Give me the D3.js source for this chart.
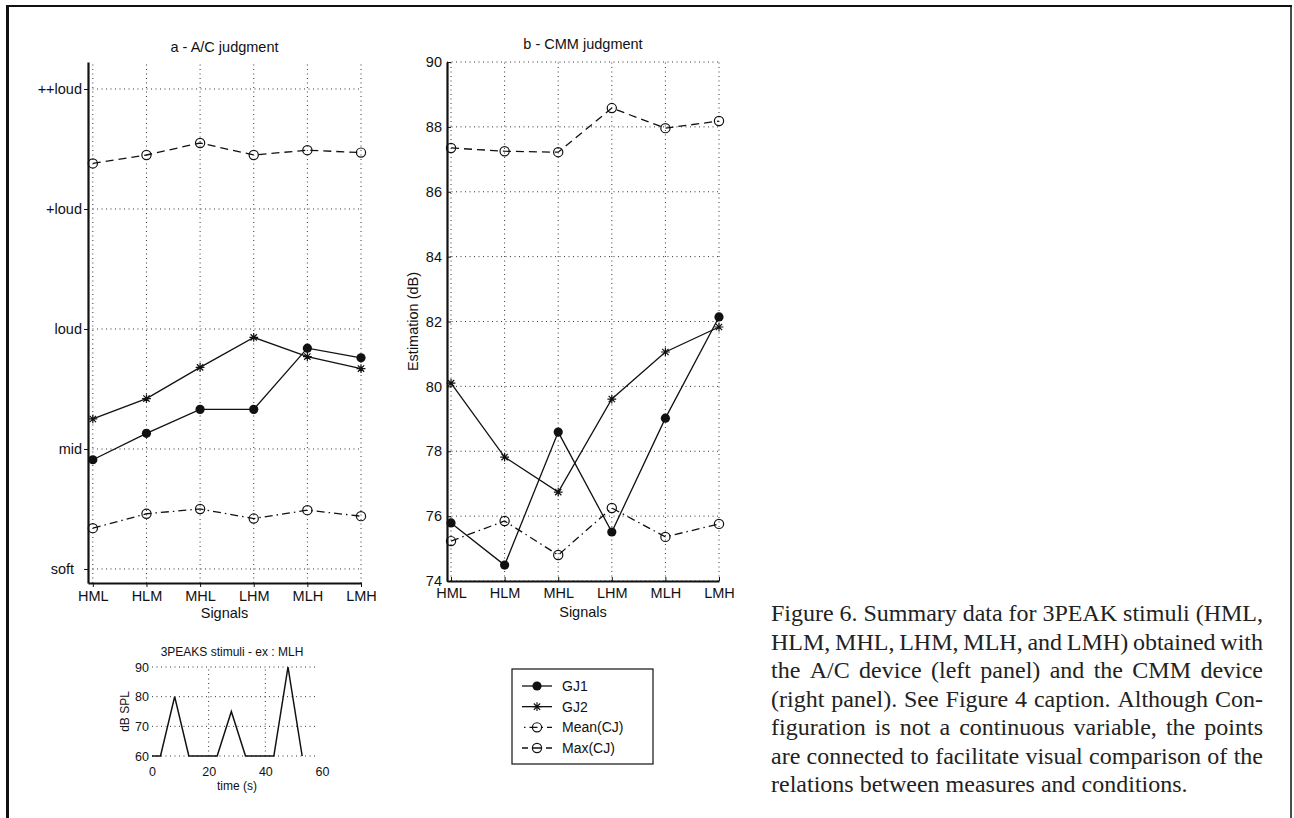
<!DOCTYPE html>
<html>
<head>
<meta charset="utf-8">
<script src="https://cdn.jsdelivr.net/npm/d3@7"></script>
<style>
body{margin:0;background:#fff;}
svg{display:block;font-family:"Liberation Sans",Arial,Helvetica,sans-serif;}
</style>
</head>
<body>
<svg id="fig" width="1294" height="818"></svg>
<script>
// ---- data ----
const signals = ["HML","HLM","MHL","LHM","MLH","LMH"];

// panel a : A/C judgment (1 = soft ... 5 = ++loud)
const acTicks = [1,2,3,4,5];
const acTickLabels = ["soft","mid","loud","+loud","++loud"];
const acGJ1    = [1.91, 2.13, 2.33, 2.33, 2.84, 2.76];
const acGJ2    = [2.25, 2.42, 2.68, 2.93, 2.77, 2.67];
const acMeanCJ = [1.34, 1.46, 1.50, 1.42, 1.49, 1.44];
const acMaxCJ  = [4.38, 4.45, 4.55, 4.45, 4.49, 4.47];

// panel b : CMM judgment (dB)
const cmmTicks  = [74,76,78,80,82,84,86,88,90];
const cmmGJ1    = [75.79, 74.49, 78.59, 75.51, 79.02, 82.14];
const cmmGJ2    = [80.10, 77.82, 76.74, 79.61, 81.06, 81.83];
const cmmMeanCJ = [75.23, 75.85, 74.80, 76.25, 75.36, 75.76];
const cmmMaxCJ  = [87.35, 87.25, 87.22, 88.58, 87.96, 88.18];

// inset : 3PEAKS stimulus example
const stimTime  = [0,3,8,13,23,28,33,43,48,53];
const stimLevel = [60,60,80,60,60,75,60,60,90,60];
const stimXTicks = [0,20,40,60];
const stimYTicks = [60,70,80,90];

const legendNames = ["GJ1","GJ2","Mean(CJ)","Max(CJ)"];

const captionLines = [
    "Figure 6. Summary data for 3PEAK stimuli (HML,",
    "HLM, MHL, LHM, MLH, and LMH) obtained with",
    "the A/C device (left panel) and the CMM device",
    "(right panel). See Figure 4 caption. Although Con-",
    "figuration is not a continuous variable, the points",
    "are connected to facilitate visual comparison of the",
    "relations between measures and conditions."
];

// ---- styles for each series ----
const seriesStyle = {
    "GJ1":      {dash: null,            marker: "dot"},
    "GJ2":      {dash: null,            marker: "star"},
    "Mean(CJ)": {dash: "8,4,1.5,4",     marker: "circle"},
    "Max(CJ)":  {dash: "8,5",           marker: "circle"}
};

const ink = "#111";
const svg = d3.select("#fig");

// page frame
svg.append("line").attr("x1",7.5).attr("x2",7.5).attr("y1",5).attr("y2",818)
    .attr("stroke",ink).attr("stroke-width",3);
svg.append("line").attr("x1",6).attr("x2",1292).attr("y1",6).attr("y2",6)
    .attr("stroke",ink).attr("stroke-width",2);
svg.append("line").attr("x1",1291).attr("x2",1291).attr("y1",5).attr("y2",818)
    .attr("stroke",ink).attr("stroke-width",1.5);

/**
 * Draws one marker of the given type at (cx,cy)
 */
function drawMarker(g, type, cx, cy){
    if(type === "dot"){
        g.append("circle").attr("cx",cx).attr("cy",cy).attr("r",4.6).attr("fill",ink);
    } else if(type === "circle"){
        g.append("circle").attr("cx",cx).attr("cy",cy).attr("r",4.6)
            .attr("fill","none").attr("stroke",ink).attr("stroke-width",1.2);
    } else {
        // matlab style asterisk: + and x on top of each other
        let r = 4.4, a = r*0.72;
        g.append("path")
            .attr("d",`M${cx-r},${cy}L${cx+r},${cy}M${cx},${cy-r}L${cx},${cy+r}`+
                      `M${cx-a},${cy-a}L${cx+a},${cy+a}M${cx-a},${cy+a}L${cx+a},${cy-a}`)
            .attr("stroke",ink).attr("stroke-width",1.2).attr("fill","none");
    }
}

/**
 * Draws a signal panel with grid, axes, and the four series
 */
function drawPanel(p){
    let g = svg.append("g");
    let x = d3.scaleLinear().domain([p.xMin, signals.length]).range([p.left, p.right]);
    let y = d3.scaleLinear().domain(p.yDomain).range([p.bottom, p.top]);

    // dotted grid
    g.selectAll(".vgrid").data(signals).join("line")
        .attr("x1",(d,i)=>x(i+1)).attr("x2",(d,i)=>x(i+1))
        .attr("y1",p.bottom).attr("y2",p.top)
        .attr("stroke","#333").attr("stroke-width",1).attr("stroke-dasharray","1,3.5");
    g.selectAll(".hgrid").data(p.ticks).join("line")
        .attr("x1",p.left).attr("x2",x(signals.length))
        .attr("y1",d=>y(d)).attr("y2",d=>y(d))
        .attr("stroke","#333").attr("stroke-width",1).attr("stroke-dasharray","1,3.5");

    // axes
    let yAxis = d3.axisLeft(y).tickValues(p.ticks).tickFormat(p.format)
        .tickSize(p.yTickSize).tickSizeOuter(0).tickPadding(p.yPad);
    let ya = g.append("g").attr("transform",`translate(${p.left},0)`).call(yAxis);
    let xAxis = d3.axisBottom(x).tickValues(d3.range(1, signals.length+1))
        .tickFormat(d=>signals[d-1]).tickSize(p.xTickSize).tickSizeOuter(0).tickPadding(p.xPad);
    let xa = g.append("g").attr("transform",`translate(0,${p.bottom})`).call(xAxis);
    for(let a of [ya, xa]){
        a.attr("font-family",null).attr("font-size",14.5);
        a.select(".domain").attr("stroke",ink).attr("stroke-width",2.2);
        a.selectAll(".tick line").attr("stroke",ink).attr("stroke-width",1);
        a.selectAll(".tick text").attr("fill",ink);
    }
    if(p.afterAxes) p.afterAxes(ya);

    // series lines and markers
    for(let s of p.series){
        let st = seriesStyle[s.name];
        let line = d3.line().x((d,i)=>x(i+1)).y(d=>y(d));
        g.append("path").attr("d",line(s.values))
            .attr("fill","none").attr("stroke",ink).attr("stroke-width",1.3)
            .attr("stroke-dasharray",st.dash);
        s.values.forEach((v,i)=>drawMarker(g, st.marker, x(i+1), y(v)));
    }

    // labels
    g.append("text").attr("x",(p.left+p.right)/2).attr("y",p.titleY)
        .attr("text-anchor","middle").attr("font-size",14.5).attr("fill",ink).text(p.title);
    g.append("text").attr("x",(p.left+p.right)/2).attr("y",p.xLabelY)
        .attr("text-anchor","middle").attr("font-size",14.5).attr("fill",ink).text("Signals");
    if(p.yLabel){
        g.append("text").attr("transform",`translate(${p.yLabelX},${(p.top+p.bottom)/2}) rotate(-90)`)
            .attr("dy","0.35em").attr("text-anchor","middle").attr("font-size",14.5)
            .attr("fill",ink).text(p.yLabel);
    }
}

// panel a
drawPanel({
    left: 88, right: 361, top: 62, bottom: 583, xMin: 0.91,
    yDomain: [0.883, 5.225], ticks: acTicks,
    format: d=>acTickLabels[d-1],
    yTickSize: 4, yPad: 2, xTickSize: 4, xPad: 4,
    title: "a - A/C judgment", titleY: 52, xLabelY: 618,
    afterAxes: ya=>{
        // "soft" sits a bit further left in the original
        ya.selectAll(".tick text").filter(d=>d===1).attr("dx",-8);
    },
    series: [
        {name:"GJ1", values: acGJ1},
        {name:"GJ2", values: acGJ2},
        {name:"Mean(CJ)", values: acMeanCJ},
        {name:"Max(CJ)", values: acMaxCJ}
    ]
});

// panel b
drawPanel({
    left: 447, right: 719, top: 62, bottom: 581, xMin: 0.925,
    yDomain: [74, 90], ticks: cmmTicks,
    format: d=>d,
    yTickSize: -4, yPad: 5, xTickSize: -4, xPad: 7,
    title: "b - CMM judgment", titleY: 49, xLabelY: 617,
    yLabel: "Estimation (dB)", yLabelX: 413,
    series: [
        {name:"GJ1", values: cmmGJ1},
        {name:"GJ2", values: cmmGJ2},
        {name:"Mean(CJ)", values: cmmMeanCJ},
        {name:"Max(CJ)", values: cmmMaxCJ}
    ]
});

// ---- inset: stimulus shape ----
function drawInset(){
    let g = svg.append("g");
    let x = d3.scaleLinear().domain([0,60]).range([152,322]);
    let y = d3.scaleLinear().domain([60,90]).range([756,667]);

    g.selectAll(".hg").data(stimYTicks).join("line")
        .attr("x1",x(0)).attr("x2",x(58.5)).attr("y1",d=>y(d)).attr("y2",d=>y(d))
        .attr("stroke","#333").attr("stroke-dasharray","1,3.5");
    g.selectAll(".vg").data(stimXTicks.slice(1,3)).join("line")
        .attr("x1",d=>x(d)).attr("x2",d=>x(d)).attr("y1",y(60)).attr("y2",y(90))
        .attr("stroke","#333").attr("stroke-dasharray","1,3.5");

    let ya = g.append("g").attr("transform",`translate(${x(0)},0)`)
        .call(d3.axisLeft(y).tickValues(stimYTicks).tickSize(0).tickPadding(3));
    let xa = g.append("g").attr("transform",`translate(0,${y(60)})`)
        .call(d3.axisBottom(x).tickValues(stimXTicks).tickSize(0).tickPadding(11));
    for(let a of [ya, xa]){
        a.attr("font-family",null).attr("font-size",12.5);
        a.select(".domain").remove();
        a.selectAll(".tick text").attr("fill",ink);
    }

    let line = d3.line().x((d,i)=>x(stimTime[i])).y(d=>y(d));
    g.append("path").attr("d",line(stimLevel)).attr("fill","none")
        .attr("stroke",ink).attr("stroke-width",1.5);

    g.append("text").attr("x",232).attr("y",655.5).attr("text-anchor","middle")
        .attr("font-size",12).attr("fill",ink).text("3PEAKS stimuli - ex : MLH");
    g.append("text").attr("x",x(30)).attr("y",789.5).attr("text-anchor","middle")
        .attr("font-size",12).attr("fill",ink).text("time (s)");
    g.append("text").attr("transform",`translate(125,${(y(60)+y(90))/2}) rotate(-90)`)
        .attr("dy","0.35em").attr("text-anchor","middle")
        .attr("font-size",12).attr("fill",ink).text("dB SPL");
}
drawInset();

// ---- legend ----
function drawLegend(){
    let g = svg.append("g");
    g.append("rect").attr("x",512).attr("y",669).attr("width",141).attr("height",95)
        .attr("fill","#fff").attr("stroke",ink).attr("stroke-width",1.2);
    let rowY = d3.scalePoint().domain(legendNames).range([686,748]);
    for(let name of legendNames){
        let st = seriesStyle[name];
        let cy = rowY(name);
        g.append("line").attr("x1",522).attr("x2",552).attr("y1",cy).attr("y2",cy)
            .attr("stroke",ink).attr("stroke-width",1.3).attr("stroke-dasharray",st.dash)
            .attr("stroke-dashoffset", name==="Mean(CJ)" ? 10 : (name==="Max(CJ)" ? 2 : 0));
        drawMarker(g, st.marker, 537, cy);
        g.append("text").attr("x",562).attr("y",cy).attr("dy","0.35em")
            .attr("font-size",14).attr("fill",ink).text(name);
    }
}
drawLegend();

// ---- caption, justified like the printed page ----
function drawCaption(){
    let g = svg.append("g").attr("font-family","'Liberation Serif','Times New Roman',serif")
        .attr("font-size",24).attr("fill","#222");
    let left = 771, width = 492, base = 621, lead = 28.5;
    captionLines.forEach((txt,li)=>{
        let words = txt.split(" ");
        let y = base + li*lead;
        let nodes = words.map(w=>g.append("text").attr("y",y).text(w));
        let widths = nodes.map(n=>n.node().getComputedTextLength());
        let last = li === captionLines.length-1;
        let gap = last ? 6 : (width - d3.sum(widths))/(words.length-1);
        let cx = left;
        nodes.forEach((n,i)=>{
            n.attr("x",cx);
            cx += widths[i] + gap;
        });
    });
}
drawCaption();
</script>
</body>
</html>
